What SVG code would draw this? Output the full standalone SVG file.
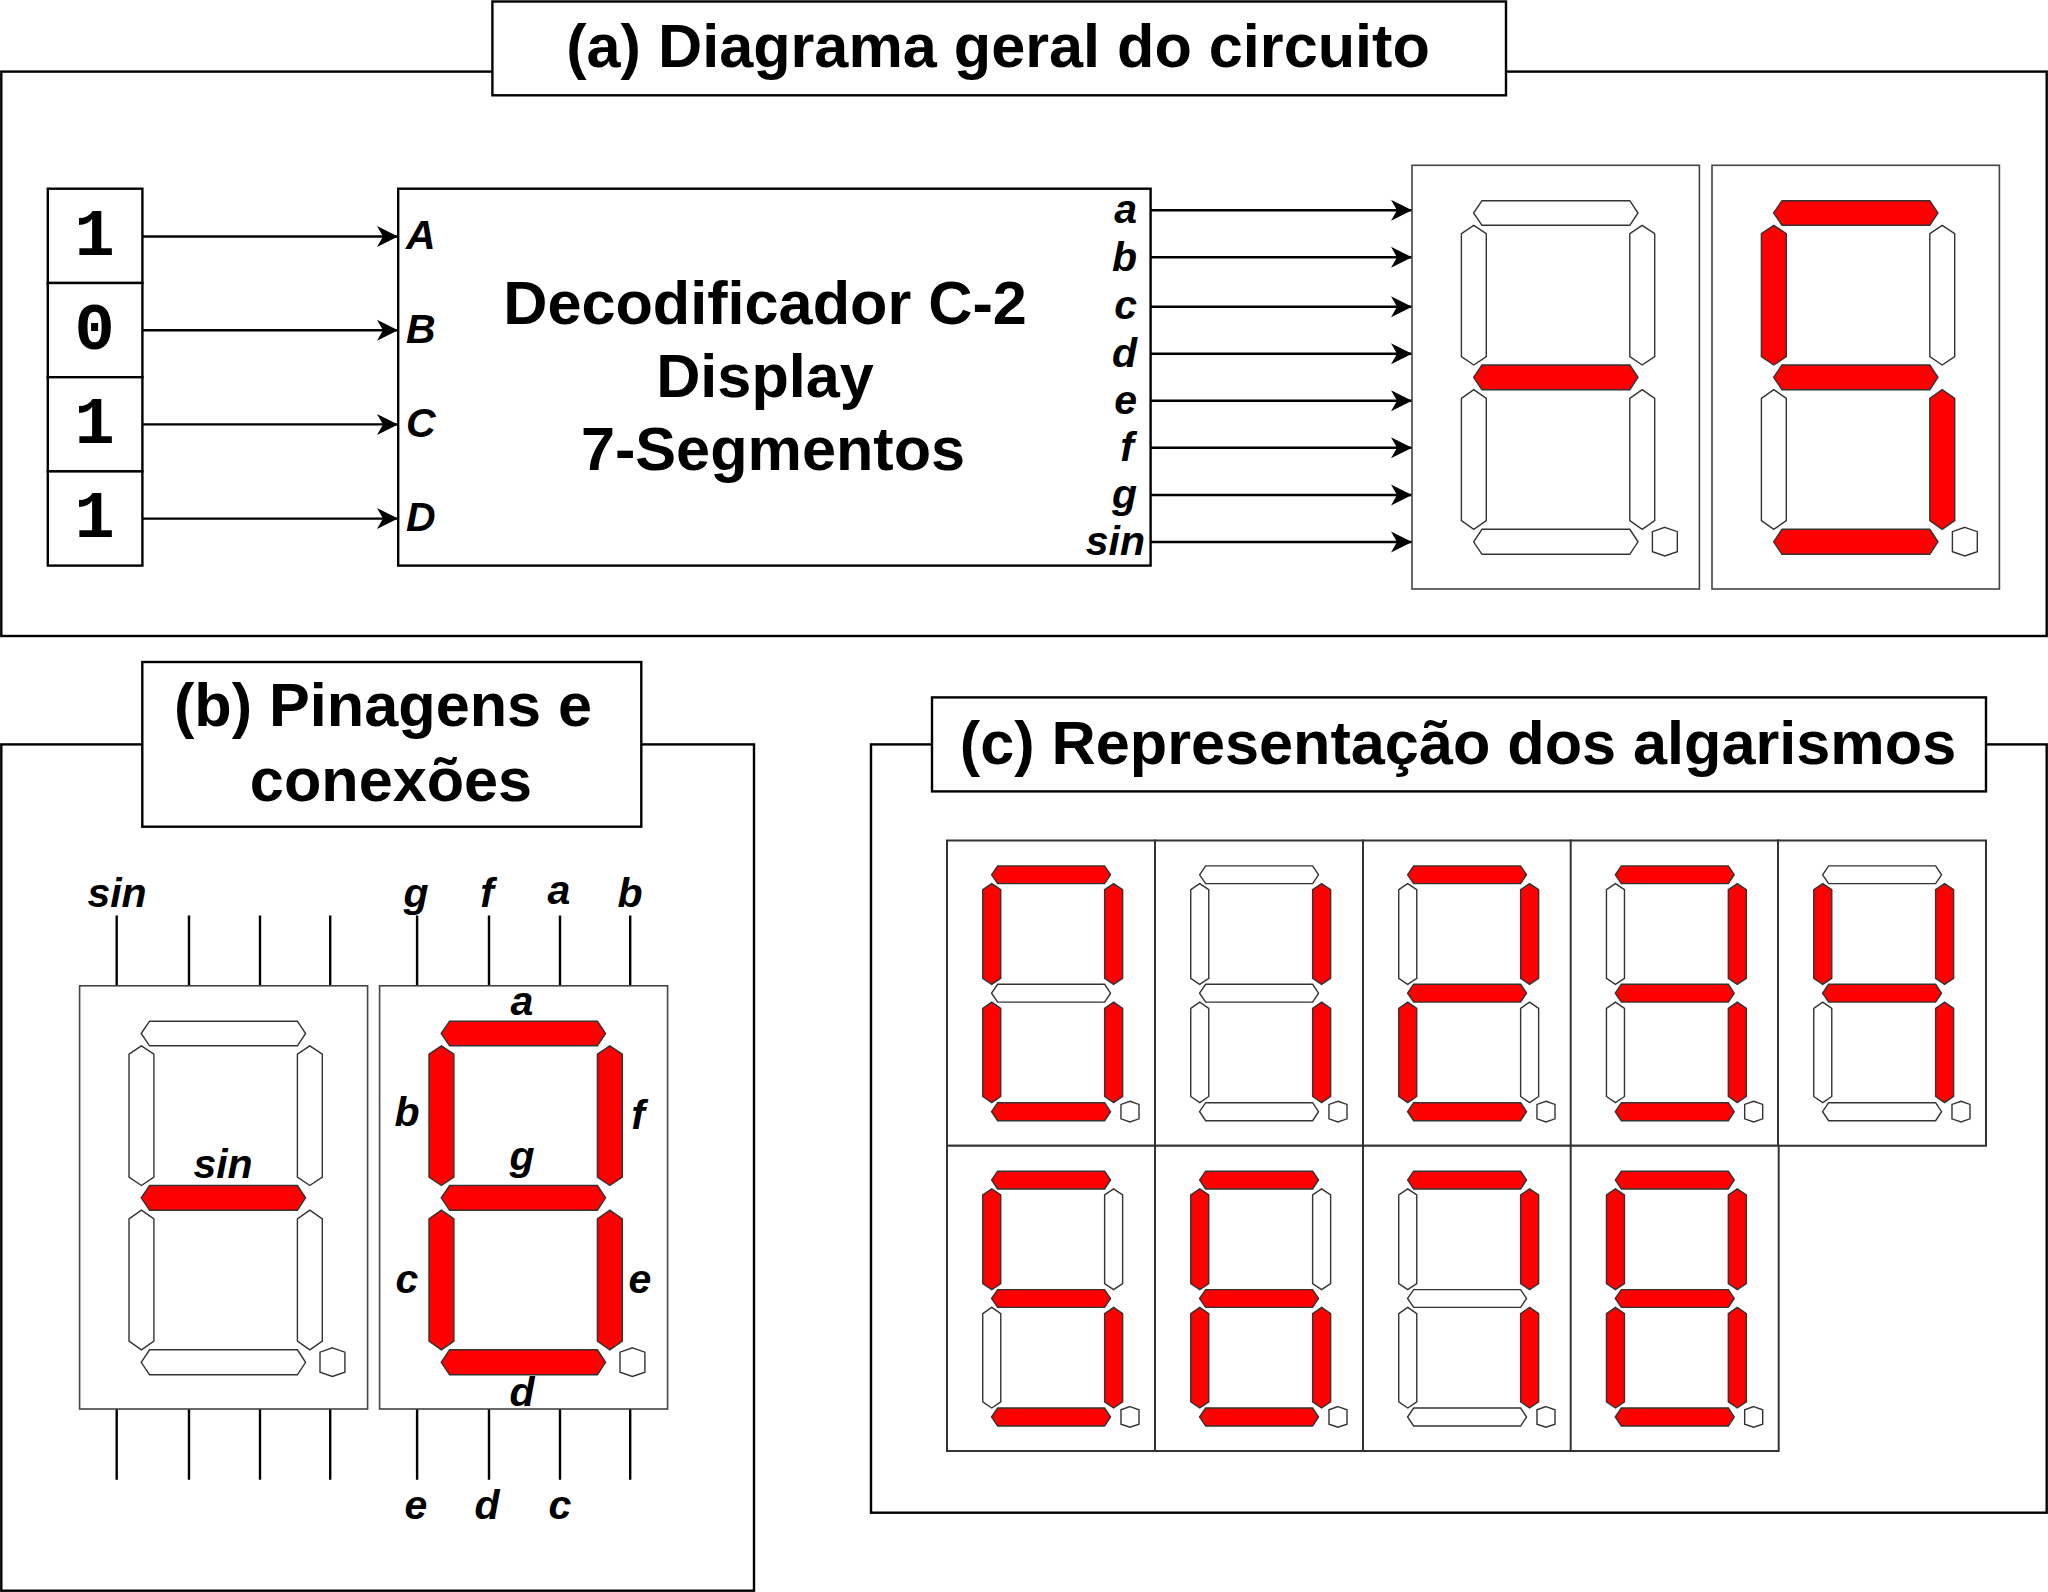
<svg xmlns="http://www.w3.org/2000/svg" width="2048" height="1592" viewBox="0 0 2048 1592">
<style>
.frame{fill:#fff;stroke:#000;stroke-width:2.4}
.thin{fill:#fff;stroke:#444;stroke-width:1.6}
.cell{fill:#fff;stroke:#333;stroke-width:2;vector-effect:non-scaling-stroke}
.ln{fill:none;stroke:#000;stroke-width:2.4}
polygon{stroke:#333;stroke-width:1.4;vector-effect:non-scaling-stroke}
.on{fill:#f00}.off{fill:#fff}
text{font-family:"Liberation Sans",Arial,sans-serif;font-weight:bold;fill:#000;text-anchor:middle}
.t{font-size:61.2px}
.l{font-size:41px;font-style:italic}
.s{text-anchor:start}.e{text-anchor:end}
.m{font-family:"Liberation Mono","Courier New",monospace;font-size:67px}
</style>
<defs>
<marker id="ah" markerUnits="userSpaceOnUse" markerWidth="24" markerHeight="24" refX="21" refY="12" orient="auto" overflow="visible"><path d="M0,1.5 L21,12 L0,22.5 L6,12 Z" fill="#000"/></marker>
<polygon id="sT" points="61.6,47.7 70,35.4 217.8,35.4 226,47.7 217.8,60 70,60"/>
<polygon id="sM" points="61.6,212 70,199.7 217.8,199.7 226,212 217.8,224.4 70,224.4"/>
<polygon id="sB" points="61.6,376.5 70,364 217.8,364 226,376.5 217.8,389 70,389"/>
<polygon id="sUL" points="61.8,60 74.3,68.4 74.3,191.4 61.8,199.7 49.4,191.4 49.4,68.4"/>
<polygon id="sUR" points="230.2,60 242.7,68.4 242.7,191.4 230.2,199.7 217.8,191.4 217.8,68.4"/>
<polygon id="sLL" points="61.8,224.4 74.3,233 74.3,355.4 61.8,364 49.4,355.4 49.4,233"/>
<polygon id="sLR" points="230.2,224.4 242.7,233 242.7,355.4 230.2,364 217.8,355.4 217.8,233"/>
<polygon id="sD" points="252.8,362 265.3,366.4 265.3,386.4 252.8,390.7 240.4,386.4 240.4,366.4"/>
</defs>

<g id="panel-a">
<rect class="frame" x="1.3" y="71.6" width="2045.4" height="564.4"/>
<rect class="frame" x="492.4" y="1.5" width="1013.6" height="93.8"/>
<text class="t" x="998" y="67">(a) Diagrama geral do circuito</text>
</g>
<g id="panel-b">
<rect class="frame" x="1.3" y="744.4" width="752.7" height="846.3"/>
<rect class="frame" x="142.3" y="662" width="499" height="164.7"/>
<text class="t" x="383" y="726">(b) Pinagens e</text>
<text class="t" x="391" y="801">conexões</text>
</g>
<g id="panel-c">
<rect class="frame" x="871" y="744.4" width="1175.7" height="768.3"/>
<rect class="frame" x="932" y="697.4" width="1054" height="94"/>
<text class="t" x="1458" y="764">(c) Representação dos algarismos</text>
</g>

<g id="binary">
<g id="bit-0"><rect class="frame" x="47.8" y="188.7" width="94.6" height="94.3"/><text class="m" x="94.7" y="255">1</text></g>
<g id="bit-1"><rect class="frame" x="47.8" y="283" width="94.6" height="94.2"/><text class="m" x="94.7" y="349">0</text></g>
<g id="bit-2"><rect class="frame" x="47.8" y="377.2" width="94.6" height="94.2"/><text class="m" x="94.7" y="443">1</text></g>
<g id="bit-3"><rect class="frame" x="47.8" y="471.4" width="94.6" height="94.2"/><text class="m" x="94.7" y="537">1</text></g>
</g>

<g id="decoder">
<rect class="frame" x="398.2" y="188.7" width="752.4" height="376.9"/>
<text class="t" x="765" y="324">Decodificador C-2</text>
<text class="t" x="765" y="397">Display</text>
<text class="t" x="773" y="470">7-Segmentos</text>
<text class="l s" x="406" y="249">A</text>
<text class="l s" x="406" y="343">B</text>
<text class="l s" x="406" y="437">C</text>
<text class="l s" x="406" y="531">D</text>
<text class="l e" x="1137" y="223">a</text>
<text class="l e" x="1137" y="270.5">b</text>
<text class="l e" x="1137" y="319">c</text>
<text class="l e" x="1137" y="366.5">d</text>
<text class="l e" x="1137" y="414">e</text>
<text class="l e" x="1134" y="461">f</text>
<text class="l e" x="1137" y="508">g</text>
<text class="l e" x="1145" y="555">sin</text>
</g>

<g id="connectors">
<line class="ln" x1="142.4" y1="236.5" x2="398" y2="236.5" marker-end="url(#ah)"/>
<line class="ln" x1="142.4" y1="330.3" x2="398" y2="330.3" marker-end="url(#ah)"/>
<line class="ln" x1="142.4" y1="424.4" x2="398" y2="424.4" marker-end="url(#ah)"/>
<line class="ln" x1="142.4" y1="518.6" x2="398" y2="518.6" marker-end="url(#ah)"/>
<line class="ln" x1="1150.6" y1="210.3" x2="1412" y2="210.3" marker-end="url(#ah)"/>
<line class="ln" x1="1150.6" y1="257.3" x2="1412" y2="257.3" marker-end="url(#ah)"/>
<line class="ln" x1="1150.6" y1="306.7" x2="1412" y2="306.7" marker-end="url(#ah)"/>
<line class="ln" x1="1150.6" y1="353.7" x2="1412" y2="353.7" marker-end="url(#ah)"/>
<line class="ln" x1="1150.6" y1="400.7" x2="1412" y2="400.7" marker-end="url(#ah)"/>
<line class="ln" x1="1150.6" y1="447.7" x2="1412" y2="447.7" marker-end="url(#ah)"/>
<line class="ln" x1="1150.6" y1="495" x2="1412" y2="495" marker-end="url(#ah)"/>
<line class="ln" x1="1150.6" y1="542" x2="1412" y2="542" marker-end="url(#ah)"/>
<path class="ln" d="M116.7,915.5V985.8M189,915.5V985.8M260,915.5V985.8M330.2,915.5V985.8M417.1,915.5V985.8M489,915.5V985.8M560,915.5V985.8M630.2,915.5V985.8M116.7,1409V1479.7M189,1409V1479.7M260,1409V1479.7M330.2,1409V1479.7M417.1,1409V1479.7M489,1409V1479.7M560,1409V1479.7M630.2,1409V1479.7"/>
</g>

<g id="display-a1" transform="translate(1412,165.3)">
<rect class="thin" width="287.4" height="423.7"/>
<use href="#sT" class="off"/><use href="#sUL" class="off"/><use href="#sUR" class="off"/><use href="#sM" class="on"/><use href="#sLL" class="off"/><use href="#sLR" class="off"/><use href="#sB" class="off"/><use href="#sD" class="off"/>
</g>
<g id="display-a2" transform="translate(1712,165.3)">
<rect class="thin" width="287.4" height="423.7"/>
<use href="#sT" class="on"/><use href="#sUL" class="on"/><use href="#sUR" class="off"/><use href="#sM" class="on"/><use href="#sLL" class="off"/><use href="#sLR" class="on"/><use href="#sB" class="on"/><use href="#sD" class="off"/>
</g>

<g id="display-b1" transform="translate(79.6,985.8)">
<rect class="thin" width="288" height="423.2"/>
<use href="#sT" class="off"/><use href="#sUL" class="off"/><use href="#sUR" class="off"/><use href="#sM" class="on"/><use href="#sLL" class="off"/><use href="#sLR" class="off"/><use href="#sB" class="off"/><use href="#sD" class="off"/>
</g>
<g id="display-b2" transform="translate(379.6,985.8)">
<rect class="thin" width="288" height="423.2"/>
<use href="#sT" class="on"/><use href="#sUL" class="on"/><use href="#sUR" class="on"/><use href="#sM" class="on"/><use href="#sLL" class="on"/><use href="#sLR" class="on"/><use href="#sB" class="on"/><use href="#sD" class="off"/>
</g>

<g id="pin-labels">
<text class="l" x="117" y="907">sin</text>
<text class="l" x="416" y="907">g</text>
<text class="l" x="487" y="907">f</text>
<text class="l" x="559" y="904">a</text>
<text class="l" x="630" y="907">b</text>
<text class="l" x="416" y="1519">e</text>
<text class="l" x="487" y="1519">d</text>
<text class="l" x="560" y="1519">c</text>
<text class="l" x="522" y="1015">a</text>
<text class="l" x="407" y="1126">b</text>
<text class="l" x="638" y="1129">f</text>
<text class="l" x="522" y="1170">g</text>
<text class="l" x="223" y="1178">sin</text>
<text class="l" x="407" y="1293">c</text>
<text class="l" x="640" y="1293">e</text>
<text class="l" x="522" y="1406">d</text>
</g>

<g id="cell-grid">
<g id="digit-0" transform="translate(947,840.4) scale(.7237,.7206)">
<rect class="cell" width="287.4" height="423.7"/>
<use href="#sT" class="on"/><use href="#sUL" class="on"/><use href="#sUR" class="on"/><use href="#sM" class="off"/><use href="#sLL" class="on"/><use href="#sLR" class="on"/><use href="#sB" class="on"/><use href="#sD" class="off"/>
</g>
<g id="digit-1" transform="translate(1155,840.4) scale(.7237,.7206)">
<rect class="cell" width="287.4" height="423.7"/>
<use href="#sT" class="off"/><use href="#sUL" class="off"/><use href="#sUR" class="on"/><use href="#sM" class="off"/><use href="#sLL" class="off"/><use href="#sLR" class="on"/><use href="#sB" class="off"/><use href="#sD" class="off"/>
</g>
<g id="digit-2" transform="translate(1363,840.4) scale(.7237,.7206)">
<rect class="cell" width="287.4" height="423.7"/>
<use href="#sT" class="on"/><use href="#sUL" class="off"/><use href="#sUR" class="on"/><use href="#sM" class="on"/><use href="#sLL" class="on"/><use href="#sLR" class="off"/><use href="#sB" class="on"/><use href="#sD" class="off"/>
</g>
<g id="digit-3" transform="translate(1570.7,840.4) scale(.7237,.7206)">
<rect class="cell" width="287.4" height="423.7"/>
<use href="#sT" class="on"/><use href="#sUL" class="off"/><use href="#sUR" class="on"/><use href="#sM" class="on"/><use href="#sLL" class="off"/><use href="#sLR" class="on"/><use href="#sB" class="on"/><use href="#sD" class="off"/>
</g>
<g id="digit-4" transform="translate(1778,840.4) scale(.7237,.7206)">
<rect class="cell" width="287.4" height="423.7"/>
<use href="#sT" class="off"/><use href="#sUL" class="on"/><use href="#sUR" class="on"/><use href="#sM" class="on"/><use href="#sLL" class="off"/><use href="#sLR" class="on"/><use href="#sB" class="off"/><use href="#sD" class="off"/>
</g>
<g id="digit-5" transform="translate(947,1145.7) scale(.7237,.7206)">
<rect class="cell" width="287.4" height="423.7"/>
<use href="#sT" class="on"/><use href="#sUL" class="on"/><use href="#sUR" class="off"/><use href="#sM" class="on"/><use href="#sLL" class="off"/><use href="#sLR" class="on"/><use href="#sB" class="on"/><use href="#sD" class="off"/>
</g>
<g id="digit-6" transform="translate(1155,1145.7) scale(.7237,.7206)">
<rect class="cell" width="287.4" height="423.7"/>
<use href="#sT" class="on"/><use href="#sUL" class="on"/><use href="#sUR" class="off"/><use href="#sM" class="on"/><use href="#sLL" class="on"/><use href="#sLR" class="on"/><use href="#sB" class="on"/><use href="#sD" class="off"/>
</g>
<g id="digit-7" transform="translate(1363,1145.7) scale(.7237,.7206)">
<rect class="cell" width="287.4" height="423.7"/>
<use href="#sT" class="on"/><use href="#sUL" class="off"/><use href="#sUR" class="on"/><use href="#sM" class="off"/><use href="#sLL" class="off"/><use href="#sLR" class="on"/><use href="#sB" class="off"/><use href="#sD" class="off"/>
</g>
<g id="digit-8" transform="translate(1570.7,1145.7) scale(.7237,.7206)">
<rect class="cell" width="287.4" height="423.7"/>
<use href="#sT" class="on"/><use href="#sUL" class="on"/><use href="#sUR" class="on"/><use href="#sM" class="on"/><use href="#sLL" class="on"/><use href="#sLR" class="on"/><use href="#sB" class="on"/><use href="#sD" class="off"/>
</g>
</g>
</svg>
